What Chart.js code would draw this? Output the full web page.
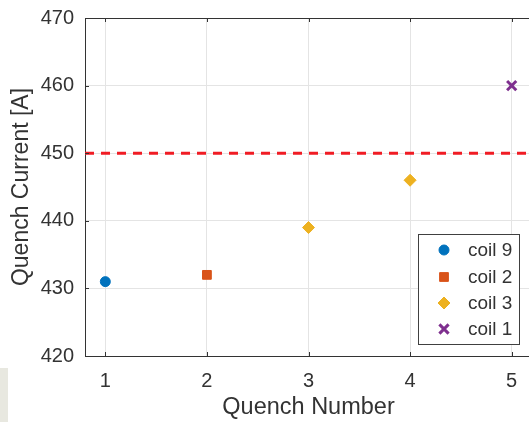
<!DOCTYPE html>
<html>
<head>
<meta charset="utf-8">
<script src="https://cdn.jsdelivr.net/npm/chart.js@4.4.1/dist/chart.umd.min.js"></script>
<style>
  html, body { margin: 0; padding: 0; background: #fff; overflow: hidden; }
  #wrap { position: relative; width: 545px; height: 422px; }
  #shade { position: absolute; left: 0; top: 368px; width: 8px; height: 54px; background: #e8e8e0; }
</style>
</head>
<body>
<div id="wrap">
  <canvas id="c" width="545" height="422"></canvas>
  <div id="shade"></div>
</div>
<script>
// ---- data ----
const seriesNames = ['coil 9', 'coil 2', 'coil 3', 'coil 1'];
const coil9X = [1];       const coil9Y = [431];
const coil2X = [2];       const coil2Y = [432];
const coil3X = [3, 4];    const coil3Y = [439, 446];
const coil1X = [5];       const coil1Y = [460];
const thresholdCurrent = 450;
const xTicks = [1, 2, 3, 4, 5];
const yTicks = [420, 430, 440, 450, 460, 470];
const xLimits = [0.8, 5.2];
const yLimits = [420, 470];

const pts = (xs, ys) => xs.map((x, i) => ({ x: x, y: ys[i] }));
const textColor = '#333333';
const fontFamily = '"Liberation Sans", Arial, sans-serif';

const legendPlugin = {
  id: 'insideLegend',
  afterDraw(chart) {
    const ctx = chart.ctx;
    const ca = chart.chartArea;
    ctx.save();
    ctx.strokeStyle = '#333333';
    ctx.lineWidth = 1;
    ctx.beginPath();
    ctx.moveTo(ca.left, Math.round(ca.top) + 0.5); ctx.lineTo(ca.right, Math.round(ca.top) + 0.5);
    const xs = chart.scales.x, ys = chart.scales.y;
    xTicks.forEach(v => {
      const px = Math.round(xs.getPixelForValue(v)) + 0.5;
      ctx.moveTo(px, ca.bottom); ctx.lineTo(px, ca.bottom - 4);
      ctx.moveTo(px, ca.top); ctx.lineTo(px, ca.top + 4);
    });
    yTicks.forEach(v => {
      const py = Math.round(ys.getPixelForValue(v)) + 0.5;
      ctx.moveTo(ca.left, py); ctx.lineTo(ca.left + 4, py);
    });
    ctx.stroke();

    // legend box
    const bx = 418.5, by = 234.5, bw = 101, bh = 110;
    ctx.fillStyle = '#ffffff';
    ctx.fillRect(bx, by, bw, bh);
    ctx.strokeStyle = '#404040';
    ctx.strokeRect(bx, by, bw, bh);
    ctx.font = '19px ' + fontFamily;
    ctx.textBaseline = 'middle';
    ctx.textAlign = 'left';
    const rowY = [250, 277, 303, 329];
    chart.data.datasets.forEach((ds, i) => {
      if (ds.hideInLegend) return;
      const y = rowY[i];
      ctx.fillStyle = ds.backgroundColor;
      ctx.strokeStyle = ds.borderColor;
      ctx.lineWidth = ds.borderWidth;
      Chart.helpers.drawPoint(ctx, { pointStyle: ds.pointStyle, radius: ds.pointRadius, borderWidth: ds.borderWidth, rotation: 0 }, 444, y);
      ctx.fillStyle = textColor;
      ctx.fillText(ds.label, 468, y + 1);
    });
    ctx.restore();
  }
};

new Chart(document.getElementById('c'), {
  type: 'scatter',
  data: {
    datasets: [
      { label: seriesNames[0], data: pts(coil9X, coil9Y), pointStyle: 'circle', pointRadius: 5, backgroundColor: '#0072BD', borderColor: '#0072BD', borderWidth: 1 },
      { label: seriesNames[1], data: pts(coil2X, coil2Y), pointStyle: 'rect', pointRadius: 6.2, backgroundColor: '#D95319', borderColor: '#D95319', borderWidth: 1 },
      { label: seriesNames[2], data: pts(coil3X, coil3Y), pointStyle: 'rectRot', pointRadius: 6, backgroundColor: '#EDB120', borderColor: '#EDB120', borderWidth: 1 },
      { label: seriesNames[3], data: pts(coil1X, coil1Y), pointStyle: 'crossRot', pointRadius: 6.5, backgroundColor: '#7E2F8E', borderColor: '#7E2F8E', borderWidth: 3 },
      { type: 'line', label: 'limit', hideInLegend: true, data: [{ x: xLimits[0], y: thresholdCurrent }, { x: xLimits[1], y: thresholdCurrent }],
        borderColor: '#f01c24', borderWidth: 3, borderDash: [9, 7], pointRadius: 0, fill: false }
    ]
  },
  options: {
    responsive: false,
    animation: false,
    layout: { padding: { left: 0, top: 18, right: 13, bottom: 0 } },
    plugins: { legend: { display: false }, tooltip: { enabled: false } },
    scales: {
      x: {
        type: 'linear', min: xLimits[0], max: xLimits[1],
        afterBuildTicks: s => { s.ticks = xTicks.map(v => ({ value: v })); },
        afterFit: s => { s.height = 66; s.paddingLeft = 0; s.paddingRight = 0; },
        grid: { color: '#e4e4e4', lineWidth: 1, drawTicks: false },
        border: { color: '#333333', width: 1 },
        ticks: { color: textColor, font: { family: fontFamily, size: 20 }, padding: 13, maxRotation: 0, autoSkip: false },
        title: { display: true, text: 'Quench Number', color: textColor, font: { family: fontFamily, size: 23.5 }, padding: { top: 0, bottom: 0 } }
      },
      y: {
        type: 'linear', min: yLimits[0], max: yLimits[1],
        afterBuildTicks: s => { s.ticks = yTicks.map(v => ({ value: v })); },
        afterFit: s => { s.width = 85; s.paddingTop = 0; s.paddingBottom = 0; },
        grid: { color: '#e4e4e4', lineWidth: 1, drawTicks: false },
        border: { color: '#333333', width: 1 },
        ticks: { color: textColor, font: { family: fontFamily, size: 20 }, padding: 11, autoSkip: false },
        title: { display: true, text: 'Quench Current [A]', color: textColor, font: { family: fontFamily, size: 23 }, padding: { top: 8, bottom: 0 } }
      }
    }
  },
  plugins: [legendPlugin]
});
</script>
</body>
</html>
